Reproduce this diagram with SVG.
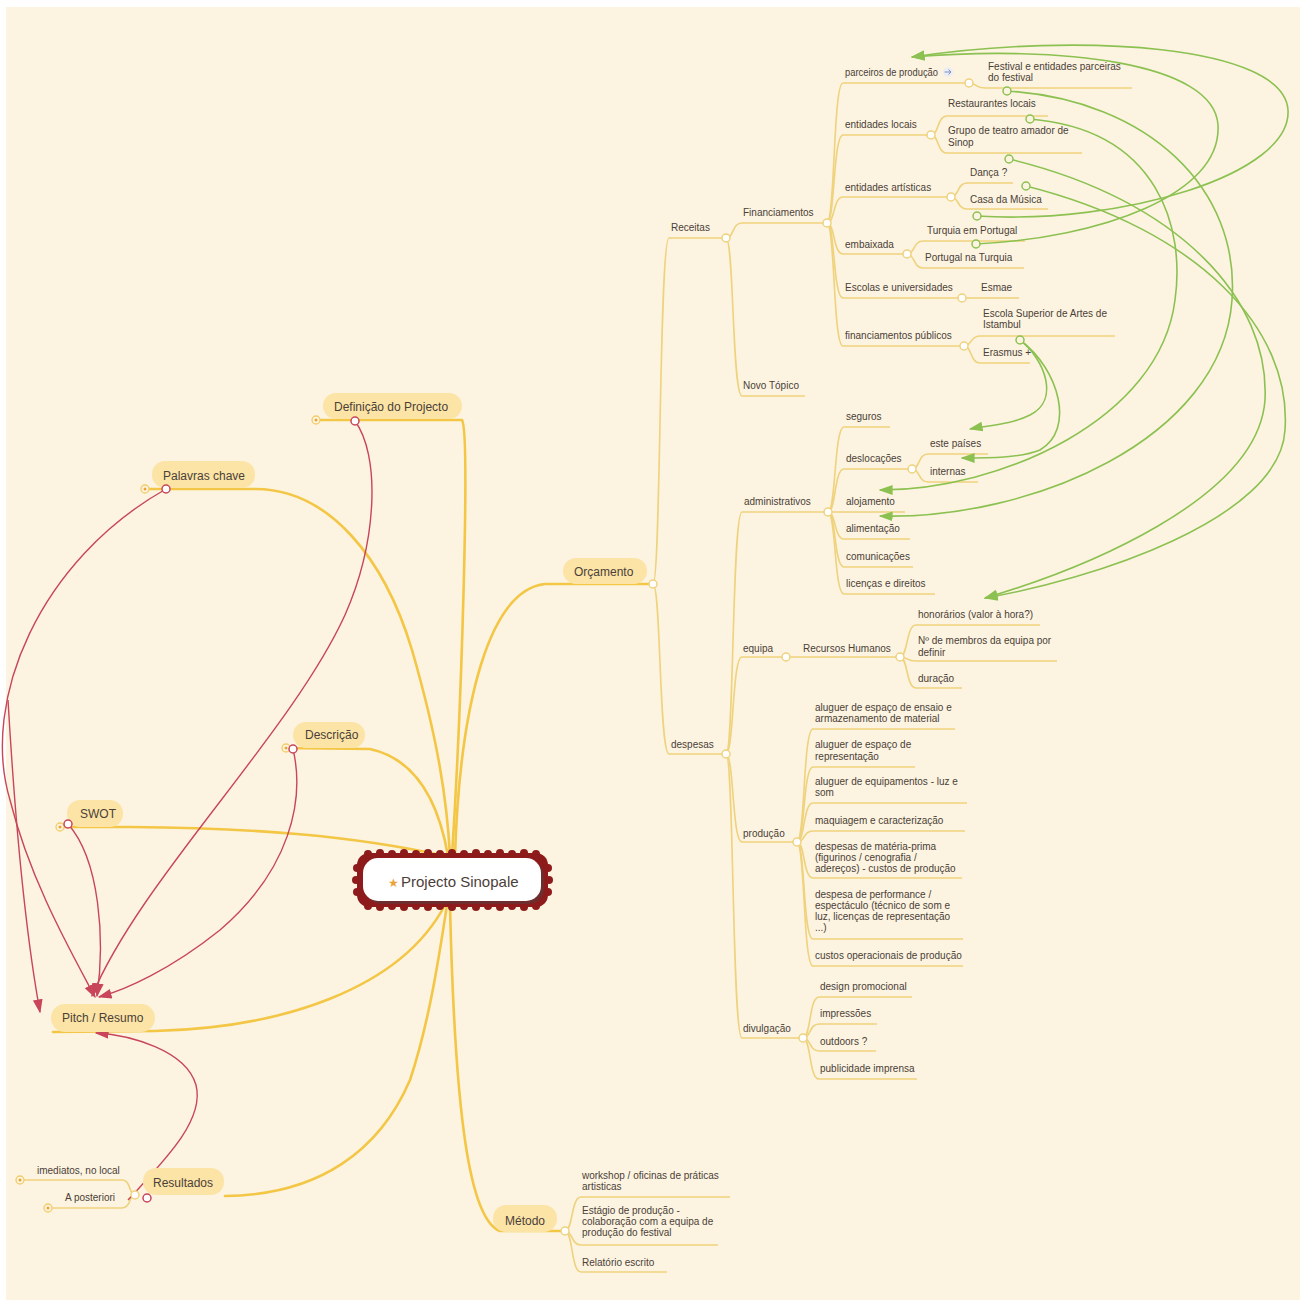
<svg xmlns="http://www.w3.org/2000/svg" width="1306" height="1302" viewBox="0 0 1306 1302">
<defs>
<style>
.t{font-family:"Liberation Sans","DejaVu Sans",sans-serif;font-size:10px;fill:#4b4038}
.tm{font-family:"Liberation Sans","DejaVu Sans",sans-serif;font-size:12px;fill:#4b4038}
.br{fill:none;stroke:#efd27d;stroke-width:1.6}
.mb{fill:none;stroke:#f3c646;stroke-width:2.6;stroke-linecap:round}
.pill{fill:#fbe4a6}
.nc{fill:#fff;stroke:#efd27d;stroke-width:1.5}
.gc{fill:#fcf4e0;stroke:#8cc152;stroke-width:1.5}
.rc{fill:#fff;stroke:#c8455a;stroke-width:1.5}
.dm{fill:#fcf4e0;stroke:#f0cd6a;stroke-width:1.3}
.dd{fill:#e9a53c}
.gl{fill:none;stroke:#8cc152;stroke-width:1.6}
.rl{fill:none;stroke:#c8455a;stroke-width:1.4}
</style>
<marker id="ag" viewBox="0 0 10 10" refX="9" refY="5" markerWidth="14" markerHeight="14" markerUnits="userSpaceOnUse" orient="auto"><path d="M0,1.5 L10,5 L0,8.5 z" fill="#8cc152"/></marker>
<marker id="ar" viewBox="0 0 10 10" refX="9" refY="5" markerWidth="14" markerHeight="14" markerUnits="userSpaceOnUse" orient="auto"><path d="M0,1.5 L10,5 L0,8.5 z" fill="#c8455a"/></marker>
</defs>
<rect width="1306" height="1302" fill="#ffffff"/>
<rect x="6" y="7" width="1294" height="1293" fill="#fcf4e0"/>

<g id="connectors">
<!-- main branches -->
<path class="mb" d="M316,420 L462,420 C 470,432 462,700 452,856"/>
<path class="mb" d="M145,489 L255,489 C 330,489 385,560 412,650 C 438,740 447,800 450,856"/>
<path class="mb" d="M285,748 L370,749 C 420,760 440,810 448,856"/>
<path class="mb" d="M60,827 L130,827 C 250,828 350,835 445,856"/>
<path class="mb" d="M653,584 L545,584 C 490,590 460,700 455,856"/>
<path class="mb" d="M53,1032 L155,1031 C 280,1028 400,990 445,905"/>
<path class="mb" d="M225,1196 C 320,1195 380,1150 410,1080 C 430,1020 440,950 447,905"/>
<path class="mb" d="M565,1231 L500,1231 C 470,1220 455,1120 450,905"/>
<!-- tree branches -->
<path class="br" d="M653,584 C 661,584 659,238 669,238 L726,238"/>
<path class="br" d="M653,584 C 661,584 659,754 669,754 L726,754"/>
<path class="br" d="M726,238 C 734,238 732,223 742,223 L827,223"/>
<path class="br" d="M726,238 C 734,238 732,396 742,396 L805,396"/>
<path class="br" d="M827,223 C 835,223 833,83 843,83 L969,83"/>
<path class="br" d="M827,223 C 835,223 833,135 843,135 L931,135"/>
<path class="br" d="M827,223 C 835,223 833,197 843,197 L951,197"/>
<path class="br" d="M827,223 C 835,223 833,254 843,254 L907,254"/>
<path class="br" d="M827,223 C 835,223 833,298 843,298 L962,298"/>
<path class="br" d="M827,223 C 835,223 833,346 843,346 L964,346"/>
<path class="br" d="M969,83 C 977,83 975,88 985,88 L1132,88"/>
<path class="br" d="M931,135 C 939,135 937,116 947,116 L1048,116"/>
<path class="br" d="M931,135 C 939,135 937,153 947,153 L1082,153"/>
<path class="br" d="M951,197 C 959,197 957,183 967,183 L1013,183"/>
<path class="br" d="M951,197 C 959,197 957,209 967,209 L1048,209"/>
<path class="br" d="M907,254 C 915,254 913,241 923,241 L1025,241"/>
<path class="br" d="M907,254 C 915,254 913,268 923,268 L1024,268"/>
<path class="br" d="M962,298 L1019,298"/>
<path class="br" d="M964,346 C 972,346 970,336 980,336 L1115,336"/>
<path class="br" d="M964,346 C 972,346 970,363 980,363 L1030,363"/>
<path class="br" d="M726,754 C 734,754 732,512 742,512 L828,512"/>
<path class="br" d="M726,754 C 734,754 732,657 742,657 L786,657"/>
<path class="br" d="M726,754 C 734,754 732,842 742,842 L797,842"/>
<path class="br" d="M726,754 C 734,754 732,1038 742,1038 L803,1038"/>
<path class="br" d="M828,512 C 836,512 834,427 844,427 L890,427"/>
<path class="br" d="M828,512 C 836,512 834,469 844,469 L912,469"/>
<path class="br" d="M828,512 L905,512"/>
<path class="br" d="M828,512 C 836,512 834,539 844,539 L910,539"/>
<path class="br" d="M828,512 C 836,512 834,567 844,567 L913,567"/>
<path class="br" d="M828,512 C 836,512 834,594 844,594 L935,594"/>
<path class="br" d="M912,469 C 920,469 918,454 928,454 L988,454"/>
<path class="br" d="M912,469 C 920,469 918,482 928,482 L978,482"/>
<path class="br" d="M786,657 L900,657"/>
<path class="br" d="M900,657 C 908,657 906,625 916,625 L1040,625"/>
<path class="br" d="M900,657 C 908,657 906,661 916,661 L1057,661"/>
<path class="br" d="M900,657 C 908,657 906,688 916,688 L962,688"/>
<path class="br" d="M797,842 C 805,842 803,729 813,729 L955,729"/>
<path class="br" d="M797,842 C 805,842 803,767 813,767 L915,767"/>
<path class="br" d="M797,842 C 805,842 803,803 813,803 L967,803"/>
<path class="br" d="M797,842 C 805,842 803,831 813,831 L965,831"/>
<path class="br" d="M797,842 C 805,842 803,878 813,878 L962,878"/>
<path class="br" d="M797,842 C 805,842 803,939 813,939 L963,939"/>
<path class="br" d="M797,842 C 805,842 803,966 813,966 L963,966"/>
<path class="br" d="M803,1038 C 811,1038 809,997 819,997 L912,997"/>
<path class="br" d="M803,1038 C 811,1038 809,1024 819,1024 L877,1024"/>
<path class="br" d="M803,1038 C 811,1038 809,1051 819,1051 L876,1051"/>
<path class="br" d="M803,1038 C 811,1038 809,1079 819,1079 L917,1079"/>
<path class="br" d="M565,1231 C 573,1231 571,1197 581,1197 L730,1197"/>
<path class="br" d="M565,1231 C 573,1231 571,1245 581,1245 L718,1245"/>
<path class="br" d="M565,1231 C 573,1231 571,1272 581,1272 L667,1272"/>
<path class="br" d="M135,1195 C 129,1195 131,1180 122,1180 L20,1180"/>
<path class="br" d="M135,1195 C 129,1195 131,1208 122,1208 L48,1208"/>
<!-- green relationship lines -->
<path class="gl" marker-end="url(#ag)" d="M977,216 C 1120,225 1292,175 1288,110 C 1284,45 1080,32 912,57"/>
<path class="gl" marker-end="url(#ag)" d="M976,244 C 1100,238 1222,195 1218,125 C 1214,62 1060,45 912,57"/>
<path class="gl" marker-end="url(#ag)" d="M1030,119 C 1160,130 1185,230 1175,300 C 1160,420 1000,490 880,490"/>
<path class="gl" marker-end="url(#ag)" d="M1007,91 C 1150,100 1240,190 1232,300 C 1222,440 1030,520 880,516"/>
<path class="gl" marker-end="url(#ag)" d="M1009,159 C 1180,200 1270,300 1265,400 C 1258,500 1080,570 985,598"/>
<path class="gl" marker-end="url(#ag)" d="M1026,186 C 1200,230 1292,330 1285,430 C 1280,520 1090,580 985,598"/>
<path class="gl" marker-end="url(#ag)" d="M1020,340 C 1045,360 1060,400 1030,415 C 1010,425 990,425 970,429"/>
<path class="gl" marker-end="url(#ag)" d="M1020,340 C 1060,370 1075,430 1040,450 C 1020,458 990,458 962,458"/>
<!-- red relationship lines -->
<path class="rl" marker-end="url(#ar)" d="M355,421 C 380,455 378,540 345,615 C 290,735 140,880 92,996"/>
<path class="rl" marker-end="url(#ar)" d="M166,489 C 40,560 -20,700 10,800 C 30,880 70,950 95,997"/>
<path class="rl" marker-end="url(#ar)" d="M8,700 C 15,820 25,930 40,1012"/>
<path class="rl" marker-end="url(#ar)" d="M68,824 C 100,860 105,940 97,996"/>
<path class="rl" marker-end="url(#ar)" d="M293,749 C 305,800 290,870 220,930 C 170,970 125,990 99,997"/>
<path class="rl" marker-end="url(#ar)" d="M128,1200 C 165,1160 205,1120 196,1085 C 186,1050 130,1035 96,1033"/>
</g>

<g id="center">
<rect x="357" y="853" width="191" height="54" rx="12" fill="#8e1b1b"/>
<g fill="#8e1b1b">
<circle cx="368" cy="854" r="4"/><circle cx="380" cy="853" r="4"/><circle cx="392" cy="854" r="4"/><circle cx="404" cy="853" r="4"/><circle cx="416" cy="854" r="4"/><circle cx="428" cy="853" r="4"/><circle cx="440" cy="854" r="4"/><circle cx="452" cy="853" r="4"/><circle cx="464" cy="854" r="4"/><circle cx="476" cy="853" r="4"/><circle cx="488" cy="854" r="4"/><circle cx="500" cy="853" r="4"/><circle cx="512" cy="854" r="4"/><circle cx="524" cy="853" r="4"/><circle cx="536" cy="854" r="4"/>
<circle cx="368" cy="906" r="4"/><circle cx="380" cy="907" r="4"/><circle cx="392" cy="906" r="4"/><circle cx="404" cy="907" r="4"/><circle cx="416" cy="906" r="4"/><circle cx="428" cy="907" r="4"/><circle cx="440" cy="906" r="4"/><circle cx="452" cy="907" r="4"/><circle cx="464" cy="906" r="4"/><circle cx="476" cy="907" r="4"/><circle cx="488" cy="906" r="4"/><circle cx="500" cy="907" r="4"/><circle cx="512" cy="906" r="4"/><circle cx="524" cy="907" r="4"/><circle cx="536" cy="906" r="4"/>
<circle cx="357" cy="868" r="4"/><circle cx="356" cy="880" r="4"/><circle cx="357" cy="892" r="4"/>
<circle cx="548" cy="868" r="4"/><circle cx="549" cy="880" r="4"/><circle cx="548" cy="892" r="4"/>
</g>
<rect x="366" y="861" width="178" height="43" rx="15" fill="#5a3a3a" opacity="0.6"/>
<rect x="363" y="858" width="178" height="43" rx="15" fill="#ffffff"/>
<text x="388" y="887" font-family="Liberation Sans, sans-serif" font-size="12" fill="#e8a33a">★</text>
<text x="401" y="887" font-family="Liberation Sans, sans-serif" font-size="15" fill="#4b4038">Projecto Sinopale</text>
</g>

<g id="definicao"><rect class="pill" x="323" y="393" width="139" height="26" rx="13"/><text class="tm" x="334" y="411">Definição do Projecto</text><circle class="dm" cx="316" cy="420" r="4"/><circle class="dd" cx="316" cy="420" r="1.5"/><circle class="rc" cx="355" cy="421" r="4"/></g>
<g id="palavras"><rect class="pill" x="152" y="461" width="103" height="27" rx="13"/><text class="tm" x="163" y="480">Palavras chave</text><circle class="dm" cx="145" cy="489" r="4"/><circle class="dd" cx="145" cy="489" r="1.5"/><circle class="rc" cx="166" cy="489" r="4"/></g>
<g id="descricao"><rect class="pill" x="293" y="722" width="72" height="26" rx="13"/><text class="tm" x="305" y="739">Descrição</text><circle class="dm" cx="286" cy="748" r="4"/><circle class="dd" cx="286" cy="748" r="1.5"/><circle class="rc" cx="293" cy="749" r="4"/></g>
<g id="swot"><rect class="pill" x="67" y="800" width="56" height="27" rx="13"/><text class="tm" x="80" y="818">SWOT</text><circle class="dm" cx="60" cy="827" r="4"/><circle class="dd" cx="60" cy="827" r="1.5"/><circle class="rc" cx="68" cy="824" r="4"/></g>
<g id="pitch"><rect class="pill" x="51" y="1004" width="104" height="28" rx="14"/><text class="tm" x="62" y="1022">Pitch / Resumo</text></g>
<g id="resultados"><rect class="pill" x="143" y="1168" width="81" height="27" rx="13"/><text class="tm" x="153" y="1187">Resultados</text><circle class="nc" cx="135" cy="1195" r="4"/><circle class="rc" cx="147" cy="1198" r="4"/>
<circle class="dm" cx="20" cy="1180" r="4"/><circle class="dd" cx="20" cy="1180" r="1.5"/><circle class="dm" cx="48" cy="1208" r="4"/><circle class="dd" cx="48" cy="1208" r="1.5"/>
<text class="t" x="37" y="1174">imediatos, no local</text><text class="t" x="65" y="1201">A posteriori</text></g>
<g id="metodo"><rect class="pill" x="493" y="1205" width="64" height="27" rx="13"/><text class="tm" x="505" y="1225">Método</text><circle class="nc" cx="565" cy="1231" r="4"/>
<text class="t" x="582" y="1179">workshop / oficinas de práticas</text><text class="t" x="582" y="1190">artisticas</text>
<text class="t" x="582" y="1214">Estágio de produção -</text><text class="t" x="582" y="1225">colaboração com a equipa de</text><text class="t" x="582" y="1236">produção do festival</text>
<text class="t" x="582" y="1266">Relatório escrito</text></g>

<g id="orcamento"><rect class="pill" x="563" y="558" width="84" height="26" rx="13"/><text class="tm" x="574" y="576">Orçamento</text><circle class="nc" cx="653" cy="584" r="4"/></g>
<g id="receitas"><text class="t" x="671" y="231">Receitas</text><circle class="nc" cx="726" cy="238" r="4"/>
<text class="t" x="743" y="389">Novo Tópico</text>
<text class="t" x="743" y="216">Financiamentos</text><circle class="nc" cx="827" cy="223" r="4"/>
<text class="t" x="845" y="76" textLength="93" lengthAdjust="spacingAndGlyphs">parceiros de produção</text><circle cx="948" cy="72" r="5" fill="#eceef3"/><path d="M944.5,72 L951,72 M948.5,69.5 L951,72 L948.5,74.5" fill="none" stroke="#7b8fc4" stroke-width="1"/><circle class="nc" cx="969" cy="83" r="4"/>
<text class="t" x="988" y="70">Festival e entidades parceiras</text><text class="t" x="988" y="81">do festival</text><circle class="gc" cx="1007" cy="91" r="4"/>
<text class="t" x="845" y="128">entidades locais</text><circle class="nc" cx="931" cy="135" r="4"/>
<text class="t" x="948" y="107">Restaurantes locais</text><circle class="gc" cx="1030" cy="119" r="4"/>
<text class="t" x="948" y="134">Grupo de teatro amador de</text><text class="t" x="948" y="146">Sinop</text><circle class="gc" cx="1009" cy="159" r="4"/>
<text class="t" x="845" y="191">entidades artísticas</text><circle class="nc" cx="951" cy="197" r="4"/>
<text class="t" x="970" y="176">Dança ?</text><circle class="gc" cx="1026" cy="186" r="4"/>
<text class="t" x="970" y="203">Casa da Música</text><circle class="gc" cx="977" cy="216" r="4"/>
<text class="t" x="845" y="248">embaixada</text><circle class="nc" cx="907" cy="254" r="4"/>
<text class="t" x="927" y="234">Turquia em Portugal</text><circle class="gc" cx="976" cy="244" r="4"/>
<text class="t" x="925" y="261">Portugal na Turquia</text>
<text class="t" x="845" y="291">Escolas e universidades</text><circle class="nc" cx="962" cy="298" r="4"/>
<text class="t" x="981" y="291">Esmae</text>
<text class="t" x="845" y="339">financiamentos públicos</text><circle class="nc" cx="964" cy="346" r="4"/>
<text class="t" x="983" y="317">Escola Superior de Artes de</text><text class="t" x="983" y="328">Istambul</text><circle class="gc" cx="1020" cy="340" r="4"/>
<text class="t" x="983" y="356">Erasmus +</text></g>
<g id="despesas"><text class="t" x="671" y="748">despesas</text><circle class="nc" cx="726" cy="754" r="4"/>
<text class="t" x="744" y="505">administrativos</text><circle class="nc" cx="828" cy="512" r="4"/>
<text class="t" x="846" y="420">seguros</text>
<text class="t" x="846" y="462">deslocações</text><circle class="nc" cx="912" cy="469" r="4"/>
<text class="t" x="930" y="447">este países</text><text class="t" x="930" y="475">internas</text>
<text class="t" x="846" y="505">alojamento</text>
<text class="t" x="846" y="532">alimentação</text>
<text class="t" x="846" y="560">comunicações</text>
<text class="t" x="846" y="587">licenças e direitos</text>
<text class="t" x="743" y="652">equipa</text><circle class="nc" cx="786" cy="657" r="4"/>
<text class="t" x="803" y="652">Recursos Humanos</text><circle class="nc" cx="900" cy="657" r="4"/>
<text class="t" x="918" y="618">honorários (valor à hora?)</text>
<text class="t" x="918" y="644">Nº de membros da equipa por</text><text class="t" x="918" y="656">definir</text>
<text class="t" x="918" y="682">duração</text>
<text class="t" x="743" y="837">produção</text><circle class="nc" cx="797" cy="842" r="4"/>
<text class="t" x="815" y="711">aluguer de espaço de ensaio e</text><text class="t" x="815" y="722">armazenamento de material</text>
<text class="t" x="815" y="748">aluguer de espaço de</text><text class="t" x="815" y="760">representação</text>
<text class="t" x="815" y="785">aluguer de equipamentos - luz e</text><text class="t" x="815" y="796">som</text>
<text class="t" x="815" y="824">maquiagem e caracterização</text>
<text class="t" x="815" y="850">despesas de matéria-prima</text><text class="t" x="815" y="861">(figurinos / cenografia /</text><text class="t" x="815" y="872">adereços) - custos de produção</text>
<text class="t" x="815" y="898">despesa de performance /</text><text class="t" x="815" y="909">espectáculo (técnico de som e</text><text class="t" x="815" y="920">luz, licenças de representação</text><text class="t" x="815" y="931">...)</text>
<text class="t" x="815" y="959">custos operacionais de produção</text>
<text class="t" x="743" y="1032">divulgação</text><circle class="nc" cx="803" cy="1038" r="4"/>
<text class="t" x="820" y="990">design promocional</text>
<text class="t" x="820" y="1017">impressões</text>
<text class="t" x="820" y="1045">outdoors ?</text>
<text class="t" x="820" y="1072">publicidade imprensa</text></g>
</svg>
